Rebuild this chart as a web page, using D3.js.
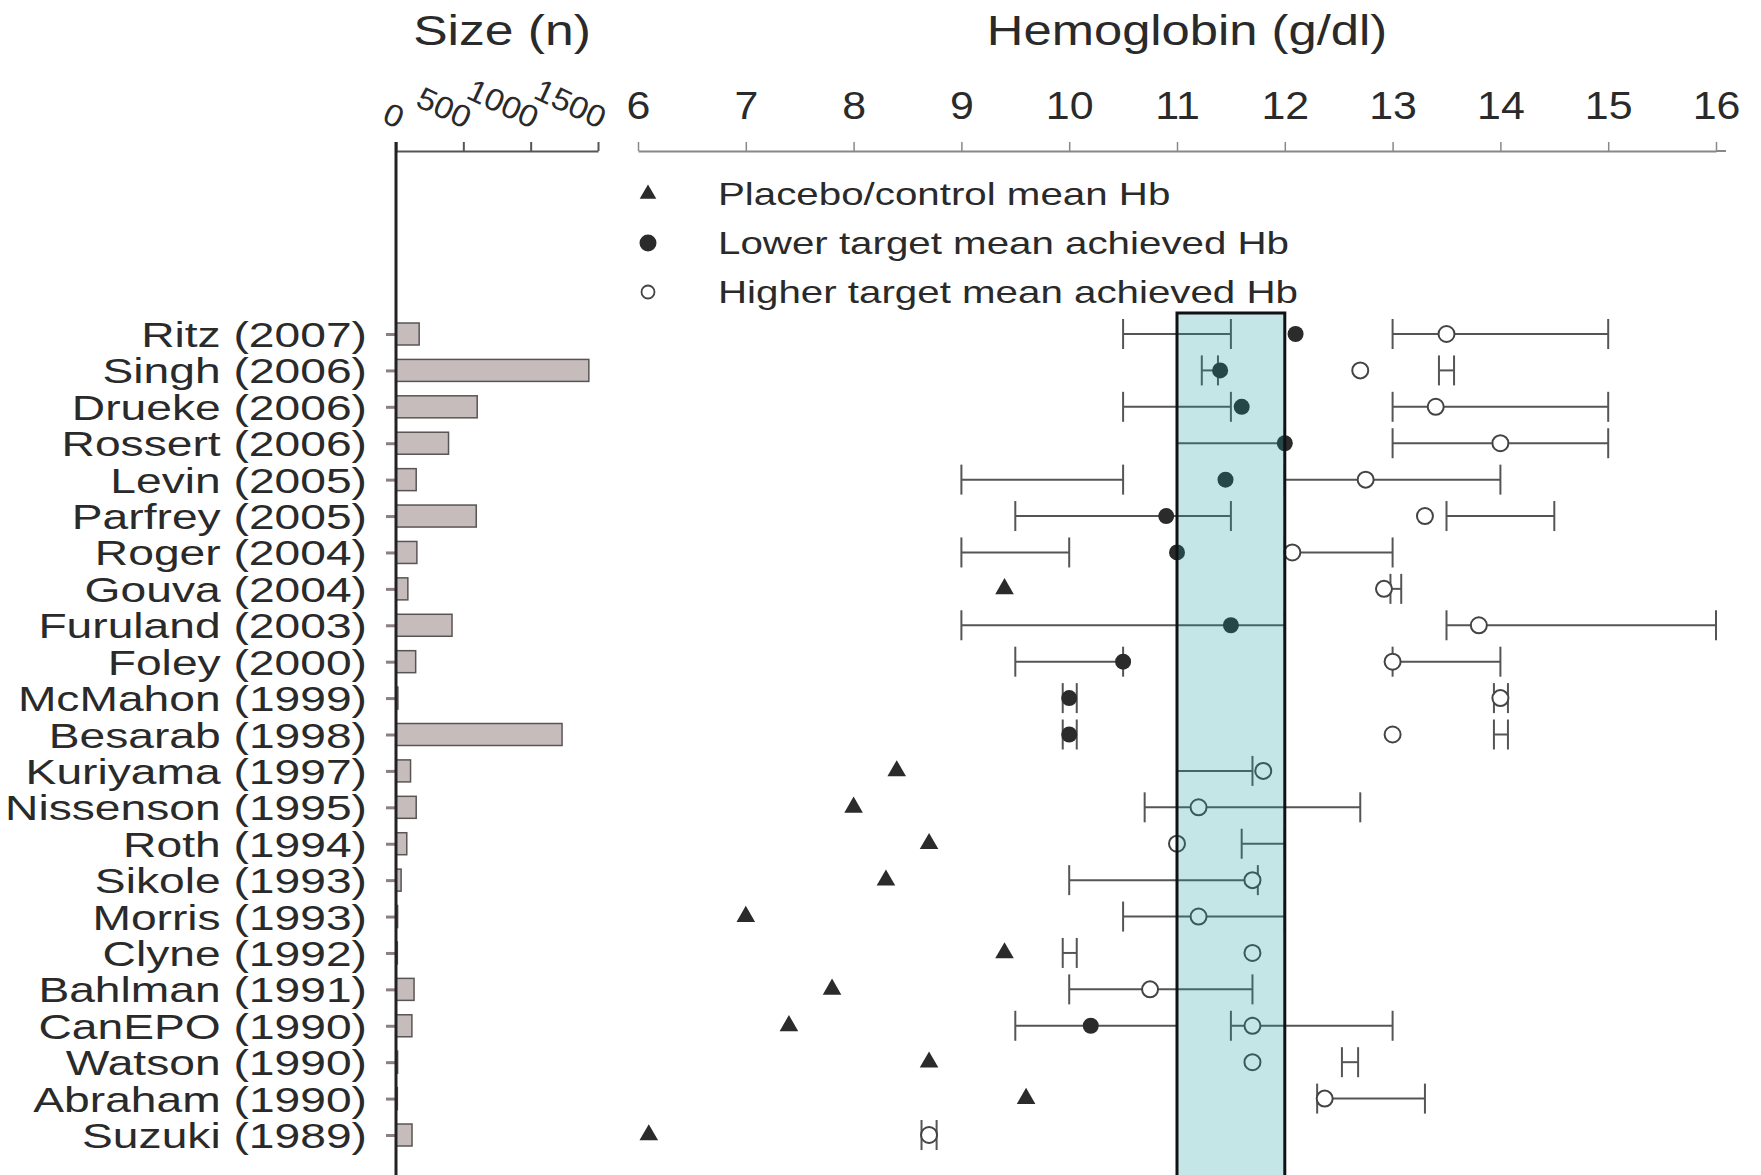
<!DOCTYPE html>
<html>
<head>
<meta charset="utf-8">
<script src="https://cdn.jsdelivr.net/npm/d3@7"></script>
<style>
  html, body { margin: 0; background: #fff; }
  svg { display: block; }
  text { font-family: "Liberation Sans", Arial, Helvetica, sans-serif; fill: #2a2a2a; }
</style>
</head>
<body>
<svg id="chart" width="1761" height="1175"></svg>
<script>
// Trials, newest first
const studies = [
  "Ritz (2007)", "Singh (2006)", "Drueke (2006)", "Rossert (2006)", "Levin (2005)",
  "Parfrey (2005)", "Roger (2004)", "Gouva (2004)", "Furuland (2003)", "Foley (2000)",
  "McMahon (1999)", "Besarab (1998)", "Kuriyama (1997)", "Nissenson (1995)", "Roth (1994)",
  "Sikole (1993)", "Morris (1993)", "Clyne (1992)", "Bahlman (1991)", "CanEPO (1990)",
  "Watson (1990)", "Abraham (1990)", "Suzuki (1989)"
];

// Number of patients per trial
const sampleSize = [172, 1432, 603, 390, 150, 596, 155, 88, 416, 146,
                    14, 1233, 108, 150, 80, 38, 12, 10, 134, 118, 12, 10, 119];

// Placebo / control mean Hb (g/dl)
const placeboHb = [null, null, null, null, null, null, null, 9.4, null, null,
                   null, null, 8.4, 8.0, 8.7, 8.3, 7.0, 9.4, 7.8, 7.4, 8.7, 9.6, 6.1];

// Lower target: mean achieved Hb and target range
const lowerHb = [12.1, 11.4, 11.6, 12.0, 11.45, 10.9, 11.0, null, 11.5, 10.5,
                 10.0, 10.0, null, null, null, null, null, null, null, 10.2, null, null, null];
const lowerLo = [10.5, 11.23, 10.5, 11.0, 9.0, 9.5, 9.0, null, 9.0, 9.5,
                 9.94, 9.94, null, null, null, null, null, 9.94, null, 9.5, null, null, null];
const lowerHi = [11.5, 11.38, 11.5, 12.0, 10.5, 11.5, 10.0, null, 12.0, 10.5,
                 10.07, 10.07, null, null, null, null, null, 10.07, null, 11.0, null, null, null];

// Higher target: mean achieved Hb and target range
const higherHb = [13.5, 12.7, 13.4, 14.0, 12.75, 13.3, 12.07, 12.92, 13.8, 13.0,
                  14.0, 13.0, 11.8, 11.2, 11.0, 11.7, 11.2, 11.7, 10.75, 11.7, 11.7, 12.37, 8.7];
const higherLo = [13.0, 13.43, 13.0, 13.0, 12.0, 13.5, 12.0, 12.98, 13.5, 13.0,
                  13.94, 13.94, 11.0, 10.7, 11.6, 10.0, 10.5, null, 10.0, 11.5, 12.53, 12.3, 8.63];
const higherHi = [15.0, 13.57, 15.0, 15.0, 14.0, 14.5, 13.0, 13.08, 16.0, 14.0,
                  14.07, 14.07, 11.7, 12.7, 12.0, 11.75, 12.0, null, 11.7, 13.0, 12.68, 13.3, 8.77];

// Recommended target band (g/dl)
const targetBand = [11, 12];

const sizeTicks = [0, 500, 1000, 1500];
const hbTicks = [6, 7, 8, 9, 10, 11, 12, 13, 14, 15, 16];

const legendLabels = [
  "Placebo/control mean Hb",
  "Lower target mean achieved Hb",
  "Higher target mean achieved Hb"
];

const rows = studies.map((s, i) => ({
  study: s,
  n: sampleSize[i],
  placebo: placeboHb[i],
  lower: lowerHb[i], lowerLo: lowerLo[i], lowerHi: lowerHi[i],
  higher: higherHb[i], higherLo: higherLo[i], higherHi: higherHi[i]
}));

const svg = d3.select("#chart");
const axisY = 151;
const bottom = 1175;

const y = d3.scalePoint().domain(studies).range([334, 1135]);
const xN = d3.scaleLinear().domain([0, 1500]).range([396, 598]);
const xHb = d3.scaleLinear().domain([6, 16]).range([638, 1716]);

const ink = "#2b2b2b";
const barColor = "#c6bcbc";
const lineColor = "#555";

// Text drawn with a horizontal stretch
function stretched(sel, x, yy, str, size, sx, anchor) {
  return sel.append("text")
    .attr("transform", `translate(${x},${yy}) scale(${sx},1)`)
    .attr("font-size", size)
    .attr("text-anchor", anchor)
    .text(str);
}

// ---- Titles ----
stretched(svg, 502, 45, "Size (n)", 43, 1.2, "middle");
stretched(svg, 1187, 45, "Hemoglobin (g/dl)", 43, 1.18, "middle");

// ---- Sample size panel ----
const sizeAxis = svg.append("g")
  .attr("transform", `translate(0,${axisY})`)
  .call(d3.axisTop(xN).tickValues(sizeTicks).tickFormat(d3.format("d"))
    .tickSize(9).tickSizeOuter(0));
sizeAxis.select(".domain").attr("stroke", lineColor).attr("stroke-width", 2);
sizeAxis.selectAll(".tick line").attr("stroke", lineColor).attr("stroke-width", 2);
sizeAxis.selectAll(".tick text")
  .attr("y", 0).attr("dy", 0)
  .attr("font-size", 31)
  .attr("font-family", "Liberation Sans, Arial, sans-serif")
  .attr("fill", ink)
  .attr("text-anchor", "end")
  .attr("transform", "translate(1,-22) rotate(25) scale(1.08,1)");

// y-axis stubs
const rowAxis = svg.append("g")
  .attr("transform", `translate(${xN(0)},0)`)
  .call(d3.axisLeft(y).tickSize(10).tickFormat(""));
rowAxis.select(".domain").remove();
rowAxis.selectAll(".tick line").attr("stroke", "#8c7e82").attr("stroke-width", 3);

svg.append("g").selectAll("rect")
  .data(rows)
  .join("rect")
  .attr("x", xN(0))
  .attr("y", d => y(d.study) - 11)
  .attr("width", d => xN(d.n) - xN(0))
  .attr("height", 22)
  .attr("fill", barColor)
  .attr("stroke", "#5a5555")
  .attr("stroke-width", 1.5);

svg.append("line")
  .attr("x1", xN(0)).attr("x2", xN(0))
  .attr("y1", axisY - 9).attr("y2", bottom)
  .attr("stroke", "#222").attr("stroke-width", 3);

// Study labels
const labelG = svg.append("g");
rows.forEach(d => stretched(labelG, 367, y(d.study) + 13, d.study, 35, 1.32, "end"));

// ---- Hemoglobin panel ----
const hbAxis = svg.append("g")
  .attr("transform", `translate(0,${axisY})`)
  .call(d3.axisTop(xHb).tickValues(hbTicks).tickSize(9).tickSizeOuter(0).tickPadding(23));
hbAxis.select(".domain").attr("stroke", "#888").attr("stroke-width", 2);
hbAxis.selectAll(".tick line").attr("stroke", "#888").attr("stroke-width", 1.5);
hbAxis.selectAll(".tick text")
  .attr("font-size", 39)
  .attr("font-family", "Liberation Sans, Arial, sans-serif")
  .attr("fill", ink)
  .attr("transform", "scale(1.1,1)");
// axis line runs a little past the last tick
hbAxis.append("line")
  .attr("x1", xHb(16)).attr("x2", xHb(16) + 10)
  .attr("y1", 0).attr("y2", 0)
  .attr("stroke", "#888").attr("stroke-width", 2);

// Legend
const legend = svg.append("g");
const legendY = [194, 243, 292];
legend.append("path")
  .attr("transform", `translate(648,${legendY[0]})`)
  .attr("d", d3.symbol(d3.symbolTriangle, 120)())
  .attr("fill", ink);
legend.append("circle").attr("cx", 648).attr("cy", legendY[1]).attr("r", 8.5).attr("fill", ink);
legend.append("circle").attr("cx", 648).attr("cy", legendY[2]).attr("r", 6.5)
  .attr("fill", "#fff").attr("stroke", "#444").attr("stroke-width", 1.8);
legendLabels.forEach((t, i) => stretched(legend, 718, legendY[i] + 11, t, 31, 1.3, "start"));

// Target ranges as capped horizontal bars
const ranges = [];
rows.forEach(d => {
  if (d.lowerLo != null) ranges.push({ study: d.study, lo: d.lowerLo, hi: d.lowerHi });
  if (d.higherLo != null) ranges.push({ study: d.study, lo: d.higherLo, hi: d.higherHi });
});
const rangeG = svg.append("g").attr("stroke", lineColor).attr("stroke-width", 2).attr("fill", "none");
ranges.forEach(r => {
  const cy = y(r.study);
  rangeG.append("line").attr("x1", xHb(r.lo)).attr("x2", xHb(r.hi)).attr("y1", cy).attr("y2", cy);
  [r.lo, r.hi].forEach(v => {
    rangeG.append("line").attr("x1", xHb(v)).attr("x2", xHb(v)).attr("y1", cy - 15).attr("y2", cy + 15);
  });
});

// Placebo means
svg.append("g").selectAll("path")
  .data(rows.filter(d => d.placebo != null))
  .join("path")
  .attr("transform", d => `translate(${xHb(d.placebo)},${y(d.study)})`)
  .attr("d", d3.symbol(d3.symbolTriangle, 150)())
  .attr("fill", ink);

// Lower target achieved means
svg.append("g").selectAll("circle")
  .data(rows.filter(d => d.lower != null))
  .join("circle")
  .attr("cx", d => xHb(d.lower))
  .attr("cy", d => y(d.study))
  .attr("r", 8)
  .attr("fill", ink);

// Higher target achieved means
svg.append("g").selectAll("circle")
  .data(rows.filter(d => d.higher != null))
  .join("circle")
  .attr("cx", d => xHb(d.higher))
  .attr("cy", d => y(d.study))
  .attr("r", 8)
  .attr("fill", "#fff")
  .attr("stroke", "#444")
  .attr("stroke-width", 2);

// Translucent target band laid over the marks
const bandTop = 313;
const bandX = xHb(targetBand[0]);
const bandW = xHb(targetBand[1]) - xHb(targetBand[0]);
svg.append("rect")
  .attr("x", bandX).attr("y", bandTop)
  .attr("width", bandW).attr("height", bottom + 20 - bandTop)
  .attr("fill", "rgb(19,155,155)")
  .attr("fill-opacity", 0.25);
svg.append("rect")
  .attr("x", bandX).attr("y", bandTop)
  .attr("width", bandW).attr("height", bottom + 20 - bandTop)
  .attr("fill", "none")
  .attr("stroke", "#111")
  .attr("stroke-width", 3);
</script>
</body>
</html>
